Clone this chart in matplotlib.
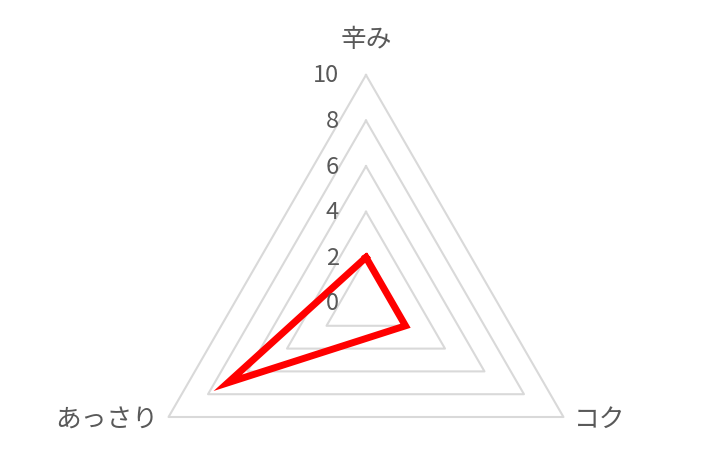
import numpy as np
import matplotlib

matplotlib.use("Agg")
import matplotlib.pyplot as plt

plt.rcParams["font.family"] = ["Noto Sans CJK JP", "DejaVu Sans"]

# データ
categories = ["辛み", "コク", "あっさり"]
values = [2, 2, 7]
grid_levels = [2, 4, 6, 8, 10]
tick_values = [0, 2, 4, 6, 8, 10]
tick_labels = ["0", "2", "4", "6", "8", "10"]

# 角度（上から時計回り）
angles = np.deg2rad([0, 120, 240])


def to_xy(r, a):
    return r * np.sin(a), r * np.cos(a)


fig = plt.figure(figsize=(7.15, 4.77), dpi=100)
ax = fig.add_axes([0, 0, 1, 1])

# 中心 (366, 304) px, 1単位 = 22.8 px
scale = 22.8
cx, cy = 366, 477 - 304
ax.set_xlim(-cx / scale, (715 - cx) / scale)
ax.set_ylim(-cy / scale, (477 - cy) / scale)
ax.axis("off")

# グリッド（三角形）
for lv in grid_levels:
    xs, ys = to_xy(np.full(4, lv), np.append(angles, angles[0]))
    ax.plot(xs, ys, color="#d9d9d9", linewidth=1.5, zorder=1)

# データ系列
xs, ys = to_xy(np.append(values, values[0]), np.append(angles, angles[0]))
ax.plot(xs, ys, color="#ff0000", linewidth=5, solid_joinstyle="miter", zorder=3)

# 目盛りラベル
for v, lab in zip(tick_values, tick_labels):
    ax.text(-1.2, v, lab, ha="right", va="center", fontsize=17,
            color="#595959")

# 項目ラベル
ax.text(0, 11.6, categories[0], ha="center", va="center", fontsize=18.5,
        color="#595959")
x1, y1 = to_xy(10, angles[1])
ax.text(x1 + 0.45, y1 - 0.1, categories[1], ha="left", va="center",
        fontsize=18.5, color="#595959")
x2, y2 = to_xy(10, angles[2])
ax.text(x2 - 0.45, y2 - 0.1, categories[2], ha="right", va="center",
        fontsize=18.5, color="#595959")

plt.savefig("out.png", dpi=100)
plt.close()
